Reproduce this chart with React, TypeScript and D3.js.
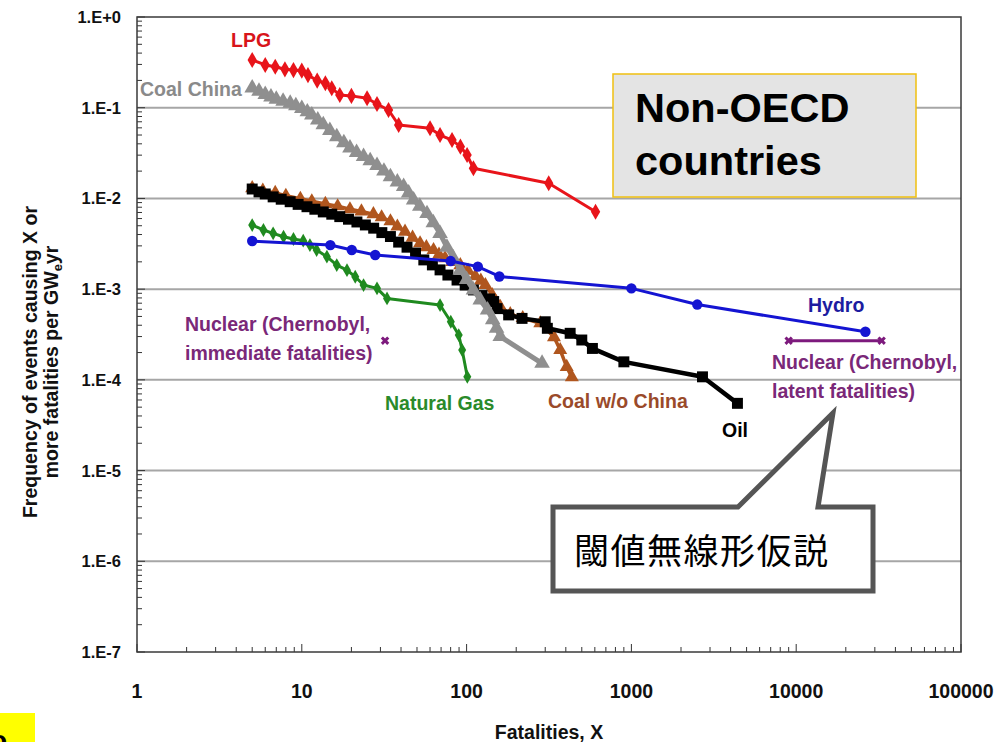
import React from "react";
import * as d3 from "d3";

// Frequency-consequence curves: events causing X or more fatalities per GWeyr
const lpgX = [5, 6, 6.9, 7.9, 8.9, 10, 10.9, 12.4, 13.9, 15.2, 17, 20, 24.9, 28.6, 33.6, 38.7, 60, 69, 81.6, 91.7, 100.7, 110, 315, 606];
const lpgF = [0.336, 0.296, 0.283, 0.265, 0.26, 0.256, 0.229, 0.199, 0.186, 0.164, 0.138, 0.135, 0.127, 0.11, 0.0944, 0.0645, 0.0593, 0.05, 0.044, 0.0372, 0.0301, 0.0215, 0.0147, 0.00713];

const coalChinaX = [5, 5.5, 6, 6.5, 7, 7.7, 8.5, 9.2, 10, 10.8, 11.5, 12.5, 13.5, 14.8, 16.3, 18, 19.6, 21.5, 23.7, 26, 28.6, 31.5, 34.5, 38, 41.5, 44.5, 47.7, 52, 57.5, 62.8, 69, 76, 83, 91.6, 100, 110, 121, 134, 144, 152, 160, 287];
const coalChinaF = [0.165, 0.152, 0.14, 0.131, 0.124, 0.118, 0.112, 0.105, 0.098, 0.09, 0.083, 0.073, 0.065, 0.056, 0.048, 0.041, 0.036, 0.032, 0.029, 0.026, 0.023, 0.02, 0.0173, 0.0152, 0.0135, 0.0115, 0.0096, 0.0082, 0.0068, 0.0054, 0.0041, 0.0029, 0.0022, 0.00163, 0.00128, 0.00098, 0.00076, 0.00059, 0.00046, 0.00037, 0.0003, 0.000152];

const oilX = [5, 5.5, 6, 6.7, 7.5, 8.5, 9.5, 10.75, 12, 13.5, 15.2, 17, 19.2, 21.6, 24.3, 27.3, 30.6, 34.5, 38.7, 43.5, 49, 55, 62, 69, 77, 87.5, 98, 110, 124, 138, 146, 153, 180, 217, 300, 309, 425, 500, 580, 900, 2700, 4400];
const oilF = [0.0127, 0.0118, 0.0112, 0.0104, 0.0098, 0.0092, 0.0086, 0.0081, 0.0076, 0.0071, 0.0067, 0.0063, 0.0059, 0.0055, 0.0051, 0.0047, 0.0042, 0.0038, 0.0033, 0.0029, 0.0025, 0.0021, 0.00185, 0.00163, 0.00143, 0.00126, 0.00111, 0.00098, 0.00085, 0.00078, 0.00073, 0.00061, 0.00052, 0.000476, 0.000437, 0.00037, 0.000326, 0.000275, 0.000222, 0.000158, 0.000108, 0.0000551];

const coalNoChinaX = [5, 5.8, 6.9, 8, 9.8, 11.5, 13.9, 16.5, 19.6, 23, 27.2, 30.5, 34.5, 38, 42.3, 47, 52.2, 57, 63, 68, 74, 82, 91.6, 102, 113, 122, 130, 143, 150, 160, 184, 219, 280, 339, 370, 405, 435];
const coalNoChinaF = [0.013, 0.0122, 0.0115, 0.0107, 0.0099, 0.0093, 0.0087, 0.0082, 0.0076, 0.0072, 0.0067, 0.0062, 0.0056, 0.0049, 0.0043, 0.0037, 0.0032, 0.0029, 0.0027, 0.0024, 0.0022, 0.002, 0.00184, 0.0016, 0.00139, 0.00124, 0.00111, 0.00086, 0.00074, 0.00064, 0.00053, 0.00048, 0.00042, 0.000296, 0.000213, 0.000139, 0.000107];

const gasX = [5, 5.85, 6.7, 7.75, 8.9, 10.2, 11.2, 12.3, 14.2, 16.3, 18.8, 21.1, 23.7, 28.6, 32.9, 69, 80.2, 89.6, 94, 101];
const gasF = [0.00509, 0.00449, 0.00412, 0.00378, 0.00357, 0.00342, 0.00306, 0.0027, 0.00228, 0.00184, 0.00162, 0.00137, 0.00111, 0.00102, 0.00079, 0.000668, 0.000437, 0.000312, 0.000213, 0.000108];

const hydroX = [5, 14.9, 20.1, 27.9, 80, 117, 158, 1000, 2510, 26300];
const hydroF = [0.00339, 0.00306, 0.0027, 0.00238, 0.00204, 0.00177, 0.00138, 0.00102, 0.000676, 0.000339];

const nuclearLatentX = [9000, 33000];
const nuclearLatentF = [0.00027, 0.00027];
const nuclearImmediateX = [32];
const nuclearImmediateF = [0.00027];

const xTicks = [1, 10, 100, 1000, 10000, 100000];
const xTickLabels = ["1", "10", "100", "1000", "10000", "100000"];
const yTicks = [1, 1e-1, 1e-2, 1e-3, 1e-4, 1e-5, 1e-6, 1e-7];
const yTickLabels = ["1.E+0", "1.E-1", "1.E-2", "1.E-3", "1.E-4", "1.E-5", "1.E-6", "1.E-7"];

const W = 1005;
const H = 742;
const FONT = "'Liberation Sans', Arial, Helvetica, sans-serif";

const x = d3.scaleLog().domain([1, 100000]).range([137, 961]);
const y = d3.scaleLog().domain([1e-7, 1]).range([652, 17]);

type Pt = [number, number];
const zip = (xs: number[], fs: number[]): Pt[] => xs.map((v, i) => [v, fs[i]]);

const line = d3
  .line<Pt>()
  .x((d) => x(d[0]))
  .y((d) => y(d[1]));

interface SeriesDef {
  key: string;
  pts: Pt[];
  color: string;
  symbol: d3.SymbolType;
  size: number;
  rotate?: number;
  width: number;
}

const series: SeriesDef[] = [
  { key: "gas", pts: zip(gasX, gasF), color: "#1f8a1f", symbol: d3.symbolDiamond, size: 55, width: 3 },
  { key: "coalNoChina", pts: zip(coalNoChinaX, coalNoChinaF), color: "#b0561e", symbol: d3.symbolTriangle, size: 85, width: 3.5 },
  { key: "oil", pts: zip(oilX, oilF), color: "#000000", symbol: d3.symbolSquare, size: 120, width: 4.5 },
  { key: "coalChina", pts: zip(coalChinaX, coalChinaF), color: "#8f8f8f", symbol: d3.symbolTriangle, size: 105, width: 5 },
  { key: "hydro", pts: zip(hydroX, hydroF), color: "#1414d2", symbol: d3.symbolCircle, size: 85, width: 3 },
  { key: "lpg", pts: zip(lpgX, lpgF), color: "#e8141a", symbol: d3.symbolDiamond, size: 75, width: 3 },
  { key: "nuclearLatent", pts: zip(nuclearLatentX, nuclearLatentF), color: "#7d1a7d", symbol: d3.symbolCross, size: 45, rotate: 45, width: 3 },
];

const labels = [
  { text: "LPG", x: 231, y: 47, color: "#d8141a" },
  { text: "Coal China", x: 140, y: 96, color: "#8a8a8a" },
  { text: "Nuclear (Chernobyl,", x: 185, y: 331, color: "#7a2878" },
  { text: "immediate fatalities)", x: 185, y: 360, color: "#7a2878" },
  { text: "Natural Gas", x: 385, y: 410, color: "#2a8a2a" },
  { text: "Coal w/o China", x: 548, y: 408, color: "#9a4a2a" },
  { text: "Oil", x: 722, y: 437, color: "#000000" },
  { text: "Hydro", x: 808, y: 312, color: "#1c1ca0" },
  { text: "Nuclear (Chernobyl,", x: 772, y: 369, color: "#7a2878" },
  { text: "latent fatalities)", x: 772, y: 398, color: "#7a2878" },
];

function minorTicks(lo: number, hi: number): number[] {
  const out: number[] = [];
  for (let e = lo; e < hi; e++) {
    for (let k = 2; k <= 9; k++) out.push(k * Math.pow(10, e));
  }
  return out;
}

export default function App() {
  const [x0, x1] = x.range();
  const [yb, yt] = y.range();
  const xMinor = minorTicks(0, 5);
  const yMinor = minorTicks(-7, 0);

  // callout geometry
  const cb = { l: 553, r: 873, t: 507, b: 591 };
  const tip = { x: 833, y: 413 };
  const calloutPath = `M${cb.l},${cb.t} L738,${cb.t} L${tip.x},${tip.y} L818,${cb.t} L${cb.r},${cb.t} L${cb.r},${cb.b} L${cb.l},${cb.b} Z`;

  return (
    <div style={{ position: "absolute", left: 0, top: 0 }}>
      <svg width={W} height={H} style={{ display: "block", background: "#ffffff" }}>
        {/* horizontal gridlines */}
        {yTicks.slice(1, -1).map((t) => (
          <line key={`g${t}`} x1={x0} x2={x1} y1={y(t)} y2={y(t)} stroke="#a6a6a6" strokeWidth={2} />
        ))}

        {/* minor ticks */}
        {yMinor.map((t) => (
          <line key={`ym${t}`} x1={x0} x2={x0 + 5} y1={y(t)} y2={y(t)} stroke="#333" strokeWidth={1} />
        ))}
        {yTicks.map((t) => (
          <line key={`yM${t}`} x1={x0} x2={x0 + 8} y1={y(t)} y2={y(t)} stroke="#333" strokeWidth={1} />
        ))}
        {xMinor.map((t) => (
          <line key={`xm${t}`} x1={x(t)} x2={x(t)} y1={yb} y2={yb - 5} stroke="#333" strokeWidth={1} />
        ))}
        {xTicks.map((t) => (
          <line key={`xM${t}`} x1={x(t)} x2={x(t)} y1={yb} y2={yb - 8} stroke="#333" strokeWidth={1} />
        ))}

        {/* frame */}
        <rect x={x0} y={yt} width={x1 - x0} height={yb - yt} fill="none" stroke="#3a3a3a" strokeWidth={1.5} />

        {/* series */}
        {series.map((s) => (
          <g key={s.key}>
            <path d={line(s.pts) || ""} fill="none" stroke={s.color} strokeWidth={s.width} strokeLinejoin="round" />
            {s.pts.map((p, i) => (
              <path
                key={i}
                d={d3.symbol().type(s.symbol).size(s.size)() || ""}
                transform={`translate(${x(p[0])},${y(p[1])})${s.rotate ? ` rotate(${s.rotate})` : ""}`}
                fill={s.color}
              />
            ))}
          </g>
        ))}
        {nuclearImmediateX.map((v, i) => (
          <path
            key={`ni${i}`}
            d={d3.symbol().type(d3.symbolCross).size(45)() || ""}
            transform={`translate(${x(v)},${y(nuclearImmediateF[i])}) rotate(45)`}
            fill="#7d1a7d"
          />
        ))}

        {/* series labels */}
        {labels.map((l, i) => (
          <text key={i} x={l.x} y={l.y} fill={l.color} fontFamily={FONT} fontWeight="bold" fontSize={19.5}>
            {l.text}
          </text>
        ))}

        {/* axis tick labels */}
        {yTicks.map((t, i) => (
          <text key={`yl${t}`} x={121} y={y(t) + 6} textAnchor="end" fontFamily={FONT} fontWeight="bold" fontSize={16.5} fill="#111">
            {yTickLabels[i]}
          </text>
        ))}
        {xTicks.map((t, i) => (
          <text key={`xl${t}`} x={x(t)} y={698} textAnchor="middle" fontFamily={FONT} fontWeight="bold" fontSize={19.5} fill="#111">
            {xTickLabels[i]}
          </text>
        ))}

        {/* axis titles */}
        <text x={549} y={739} textAnchor="middle" fontFamily={FONT} fontWeight="bold" fontSize={19.5} fill="#111">
          Fatalities, X
        </text>
        <g transform="translate(37,362) rotate(-90)" fontFamily={FONT} fontWeight="bold" fontSize={19.5} fill="#111">
          <text x={0} y={0} textAnchor="middle">Frequency of events causing X or</text>
          <text x={0} y={21} textAnchor="middle">
            more fatalities per GW
            <tspan fontSize={13} dy={4}>e</tspan>
            <tspan dy={-4}>yr</tspan>
          </text>
        </g>

        {/* region box */}
        <rect x={613} y={74} width={303} height={123} fill="#e4e4e4" stroke="#f0c010" strokeWidth={1.5} />
        <text x={635} y={122} fontFamily={FONT} fontWeight="bold" fontSize={41.5} fill="#000">Non-OECD</text>
        <text x={635} y={175} fontFamily={FONT} fontWeight="bold" fontSize={41.5} fill="#000">countries</text>

        {/* callout */}
        <path d={calloutPath} fill="#ffffff" stroke="#555555" strokeWidth={5} strokeLinejoin="miter" />
        <text x={574} y={564} fontFamily="'Noto Sans CJK JP', sans-serif" fontSize={35} fill="#000" letterSpacing={1.5}>
          閾値無線形仮説
        </text>

        {/* corner tag */}
        <rect x={0} y={713} width={35} height={29} fill="#ffff00" />
        <text x={-10} y={750} fontFamily={FONT} fontWeight="bold" fontSize={28} fill="#000">o</text>
      </svg>
    </div>
  );
}
